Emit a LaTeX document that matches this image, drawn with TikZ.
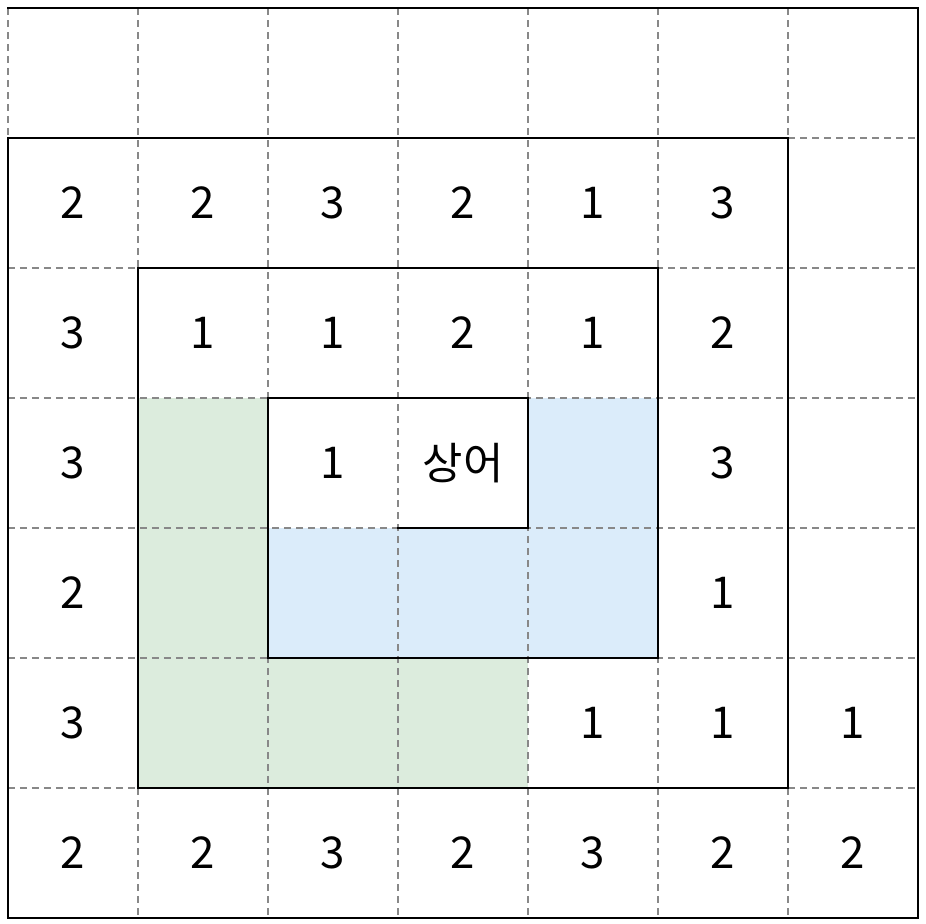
\documentclass[tikz,border=0pt]{standalone}
\usepackage{fontspec}
\setmainfont{Noto Sans CJK KR}
\definecolor{gridgray}{HTML}{888888}
\definecolor{cellgreen}{HTML}{DCECDD}
\definecolor{cellblue}{HTML}{DBECFA}
\tikzset{
  gridline/.style={draw=gridgray, line width=1.8bp, dash pattern=on 7bp off 5bp},
  spiralline/.style={draw=black, line width=2.6bp, line join=miter, line cap=rect},
  num/.style={font=\fontsize{44}{48}\selectfont, inner sep=0pt, anchor=center},
  greencell/.style={fill=cellgreen},
  bluecell/.style={fill=cellblue}
}
\begin{document}
\begin{tikzpicture}[x=130bp, y=-130bp]
  \useasboundingbox (-8/130,-8/130) rectangle (7+8/130,7+6/130);
  % fills
  \foreach \c/\r in {1/3,1/4,1/5,2/5,3/5}
    \fill[greencell] (\c,\r) rectangle ++(1,1);
  \foreach \c/\r in {4/3,2/4,3/4,4/4}
    \fill[bluecell] (\c,\r) rectangle ++(1,1);
  % dashed grid
  \foreach \i in {0,...,7} {
    \draw[gridline] (\i,0) -- (\i,7);
    \draw[gridline] (0,\i) -- (7,\i);
  }
  % spiral
  \draw[spiralline] (3,4) -- (4,4) -- (4,3) -- (2,3) -- (2,5) -- (5,5) -- (5,2)
    -- (1,2) -- (1,6) -- (6,6) -- (6,1) -- (0,1) -- (0,7) -- (7,7) -- (7,0) -- (0,0);
  % numbers
  \foreach \r/\vals in {1/{2,2,3,2,1,3}, 2/{3,1,1,2,1,2}, 6/{2,2,3,2,3,2,2}} {
    \foreach \v [count=\c from 0] in \vals
      \node[num] (n-\r-\c) at (\c+0.5,\r+0.5) {\v};
  }
  \node[num] (n-3-0) at (0.5,3.5) {3};
  \node[num] (n-3-2) at (2.5,3.5) {1};
  \node[num] (shark) at (3.5,3.5) {상어};
  \node[num] (n-3-5) at (5.5,3.5) {3};
  \node[num] (n-4-0) at (0.5,4.5) {2};
  \node[num] (n-4-5) at (5.5,4.5) {1};
  \node[num] (n-5-0) at (0.5,5.5) {3};
  \node[num] (n-5-4) at (4.5,5.5) {1};
  \node[num] (n-5-5) at (5.5,5.5) {1};
  \node[num] (n-5-6) at (6.5,5.5) {1};
\end{tikzpicture}
\end{document}
